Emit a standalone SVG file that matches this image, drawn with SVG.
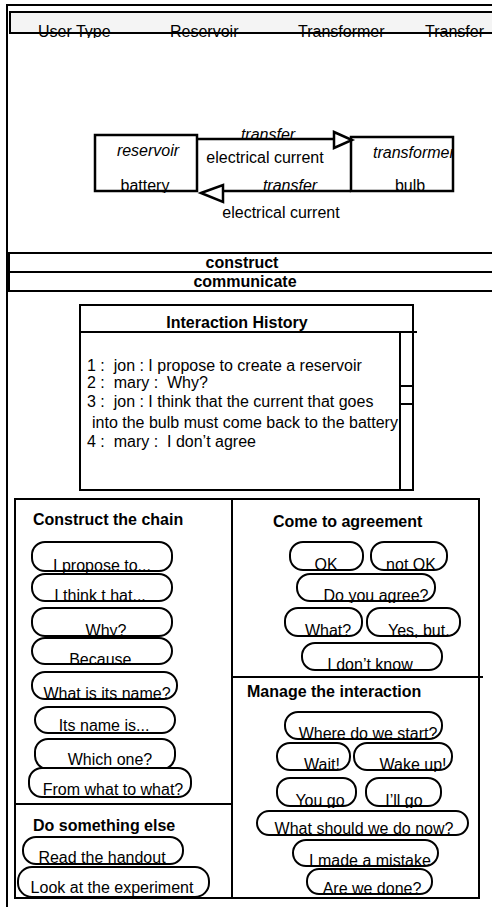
<svg xmlns="http://www.w3.org/2000/svg" width="492" height="907" viewBox="0 0 492 907">
<style>
text{font-family:"Liberation Sans",Arial,sans-serif;font-size:16px;fill:#000}
.b{font-weight:bold}
.i{font-style:italic}
.m{text-anchor:middle}
.ln{stroke:#000;stroke-width:2;fill:none}
.box{stroke:#000;stroke-width:2.5;fill:none}
.pill{stroke:#000;stroke-width:2;fill:#fff}
.ah{stroke:#000;stroke-width:2.5;fill:#fff;stroke-linejoin:miter}
</style>
<defs>
<clipPath id="hc"><rect x="0" y="0" width="492" height="38"/></clipPath>
<clipPath id="rc"><rect x="94" y="134" width="104" height="59"/></clipPath>
<clipPath id="tc"><rect x="350" y="136" width="104" height="57"/></clipPath>
</defs>
<rect width="492" height="907" fill="#fff"/>

<g id="frame">
<line x1="6" y1="5" x2="492" y2="5" class="ln"/>
<line x1="7" y1="4" x2="7" y2="907" class="ln"/>
<line x1="7" y1="253" x2="492" y2="253" class="ln"/>
</g>

<g id="header">
<rect x="10" y="12" width="490" height="21" fill="#f4f4f4" stroke="#000" stroke-width="2"/>
<g clip-path="url(#hc)">
<text x="38" y="37">User Type</text>
<text x="170" y="37">Reservoir</text>
<text x="298" y="37">Transformer</text>
<text x="425" y="37">Transfer</text>
</g>
</g>

<g id="reservoir">
<rect class="box" x="95" y="135" width="102" height="56"/>
<g clip-path="url(#rc)">
<text class="i m" x="148" y="156">reservoir</text>
<text class="m" x="145" y="191">battery</text>
</g>
</g>

<g id="transformer">
<rect class="box" x="351" y="137" width="102" height="54"/>
<g clip-path="url(#tc)">
<text class="i" x="373" y="158">transformer</text>
<text class="m" x="410" y="191">bulb</text>
</g>
</g>

<g id="connectors">
<line x1="197" y1="139" x2="336" y2="139" stroke="#000" stroke-width="2.5"/>
<polygon class="ah" points="334,132 352,140 334,148"/>
<text class="i m" x="268" y="140">transfer</text>
<text class="m" x="265" y="163">electrical current</text>
<line x1="221" y1="191" x2="351" y2="191" stroke="#000" stroke-width="2.5"/>
<polygon class="ah" points="201,193 223,185 223,202"/>
<text class="i m" x="290" y="191">transfer</text>
<text class="m" x="281" y="218">electrical current</text>
</g>

<g id="construct">
<rect x="9" y="253" width="490" height="19" class="ln"/>
<text class="b m" x="242" y="268">construct</text>
</g>
<g id="communicate">
<rect x="9" y="272" width="490" height="19" class="ln"/>
<text class="b m" x="245" y="287">communicate</text>
</g>

<g id="history">
<rect x="80" y="305" width="333" height="185" class="ln"/>
<line x1="80" y1="332" x2="417" y2="332" class="ln"/>
<text class="b m" x="237" y="328">Interaction History</text>
<line x1="400" y1="332" x2="400" y2="490" class="ln"/>
<rect x="400" y="386" width="13" height="18" class="ln"/>
<text x="87" y="371" xml:space="preserve">1 :  jon : I propose to create a reservoir</text>
<text x="87" y="388" xml:space="preserve">2 :  mary :  Why?</text>
<text x="87" y="407" xml:space="preserve">3 :  jon : I think that the current that goes</text>
<text x="92" y="428">into the bulb must come back to the battery</text>
<text x="87" y="447" xml:space="preserve">4 :  mary :  I don’t agree</text>
</g>

<g id="panel-chain">
<rect x="15" y="499" width="217" height="305" class="ln"/>
<text class="b" x="33" y="525">Construct the chain</text>
</g>
<g id="panel-else">
<rect x="15" y="804" width="217" height="94" class="ln"/>
<text class="b" x="33" y="831">Do something else</text>
</g>
<g id="panel-agree">
<rect x="232" y="499" width="247" height="178" class="ln"/>
<text class="b" x="273" y="527">Come to agreement</text>
</g>
<g id="panel-manage">
<rect x="232" y="677" width="247" height="221" class="ln"/>
<line x1="479" y1="677" x2="483" y2="677" class="ln"/>
<text class="b" x="247" y="697">Manage the interaction</text>
</g>

<g id="pill-propose"><rect class="pill" x="32" y="542" width="140" height="29" rx="13"/><svg x="31" y="541" width="142" height="32" viewBox="31 541 142 32"><text class="m" x="102" y="571">I propose to...</text></svg></g>
<g id="pill-think"><rect class="pill" x="32" y="574" width="140" height="27" rx="13"/><svg x="31" y="573" width="142" height="30" viewBox="31 573 142 30"><text class="m" x="100" y="601">I think t hat...</text></svg></g>
<g id="pill-why"><rect class="pill" x="32" y="608" width="140" height="28" rx="13"/><svg x="31" y="607" width="142" height="31" viewBox="31 607 142 31"><text class="m" x="106" y="636">Why?</text></svg></g>
<g id="pill-because"><rect class="pill" x="32" y="638" width="140" height="26" rx="13"/><svg x="31" y="637" width="142" height="29" viewBox="31 637 142 29"><text class="m" x="107" y="665">Because...</text></svg></g>
<g id="pill-name"><rect class="pill" x="32" y="672" width="145" height="27" rx="13"/><svg x="31" y="671" width="147" height="30" viewBox="31 671 147 30"><text class="m" x="107" y="699">What is its name?</text></svg></g>
<g id="pill-nameis"><rect class="pill" x="35" y="707" width="140" height="26" rx="13"/><svg x="34" y="706" width="142" height="29" viewBox="34 706 142 29"><text class="m" x="104" y="731">Its name is...</text></svg></g>
<g id="pill-which"><rect class="pill" x="35" y="739" width="140" height="30" rx="13"/><svg x="34" y="738" width="142" height="33" viewBox="34 738 142 33"><text class="m" x="110" y="765">Which one?</text></svg></g>
<g id="pill-from"><rect class="pill" x="29" y="768" width="162" height="29" rx="13"/><svg x="28" y="767" width="164" height="32" viewBox="28 767 164 32"><text class="m" x="113" y="795">From what to what?</text></svg></g>

<g id="pill-handout"><rect class="pill" x="23" y="837" width="160" height="27" rx="13"/><svg x="22" y="836" width="162" height="30" viewBox="22 836 162 30"><text class="m" x="102" y="863">Read the handout</text></svg></g>
<g id="pill-experiment"><rect class="pill" x="18" y="867" width="191" height="30" rx="14"/><svg x="17" y="866" width="193" height="33" viewBox="17 866 193 33"><text class="m" x="112" y="893">Look at the experiment</text></svg></g>

<g id="pill-ok"><rect class="pill" x="290" y="542" width="73" height="28" rx="13"/><svg x="289" y="541" width="75" height="31" viewBox="289 541 75 31"><text class="m" x="326" y="570">OK</text></svg></g>
<g id="pill-notok"><rect class="pill" x="371" y="542" width="76" height="28" rx="13"/><svg x="370" y="541" width="78" height="31" viewBox="370 541 78 31"><text class="m" x="411" y="570">not OK</text></svg></g>
<g id="pill-agree"><rect class="pill" x="297" y="574" width="138" height="27" rx="13"/><svg x="296" y="573" width="140" height="30" viewBox="296 573 140 30"><text class="m" x="376" y="601">Do you agree?</text></svg></g>
<g id="pill-what"><rect class="pill" x="285" y="608" width="77" height="28" rx="13"/><svg x="284" y="607" width="79" height="31" viewBox="284 607 79 31"><text class="m" x="328" y="636">What?</text></svg></g>
<g id="pill-yesbut"><rect class="pill" x="367" y="608" width="93" height="28" rx="13"/><svg x="366" y="607" width="95" height="31" viewBox="366 607 95 31"><text class="m" x="421" y="636">Yes, but..</text></svg></g>
<g id="pill-dontknow"><rect class="pill" x="302" y="643" width="140" height="27" rx="13"/><svg x="301" y="642" width="142" height="30" viewBox="301 642 142 30"><text class="m" x="370" y="670">I don’t know</text></svg></g>

<g id="pill-start"><rect class="pill" x="285" y="712" width="157" height="27" rx="13"/><svg x="284" y="711" width="159" height="30" viewBox="284 711 159 30"><text class="m" x="368" y="739">Where do we start?</text></svg></g>
<g id="pill-wait"><rect class="pill" x="277" y="743" width="73" height="27" rx="13"/><svg x="276" y="742" width="75" height="30" viewBox="276 742 75 30"><text class="m" x="322" y="770">Wait!</text></svg></g>
<g id="pill-wake"><rect class="pill" x="354" y="743" width="98" height="27" rx="13"/><svg x="353" y="742" width="100" height="30" viewBox="353 742 100 30"><text class="m" x="413" y="770">Wake up!</text></svg></g>
<g id="pill-yougo"><rect class="pill" x="277" y="778" width="79" height="28" rx="13"/><svg x="276" y="777" width="81" height="31" viewBox="276 777 81 31"><text class="m" x="320" y="806">You go</text></svg></g>
<g id="pill-illgo"><rect class="pill" x="366" y="778" width="75" height="28" rx="13"/><svg x="365" y="777" width="77" height="31" viewBox="365 777 77 31"><text class="m" x="404" y="806">I’ll go</text></svg></g>
<g id="pill-now"><rect class="pill" x="257" y="811" width="211" height="24" rx="12"/><svg x="256" y="810" width="213" height="27" viewBox="256 810 213 27"><text class="m" x="364" y="834">What should we do now?</text></svg></g>
<g id="pill-mistake"><rect class="pill" x="293" y="840" width="145" height="26" rx="13"/><svg x="292" y="839" width="147" height="29" viewBox="292 839 147 29"><text class="m" x="370" y="866">I made a mistake</text></svg></g>
<g id="pill-done"><rect class="pill" x="307" y="869" width="125" height="25" rx="12"/><svg x="306" y="868" width="127" height="28" viewBox="306 868 127 28"><text class="m" x="372" y="894">Are we done?</text></svg></g>
</svg>
